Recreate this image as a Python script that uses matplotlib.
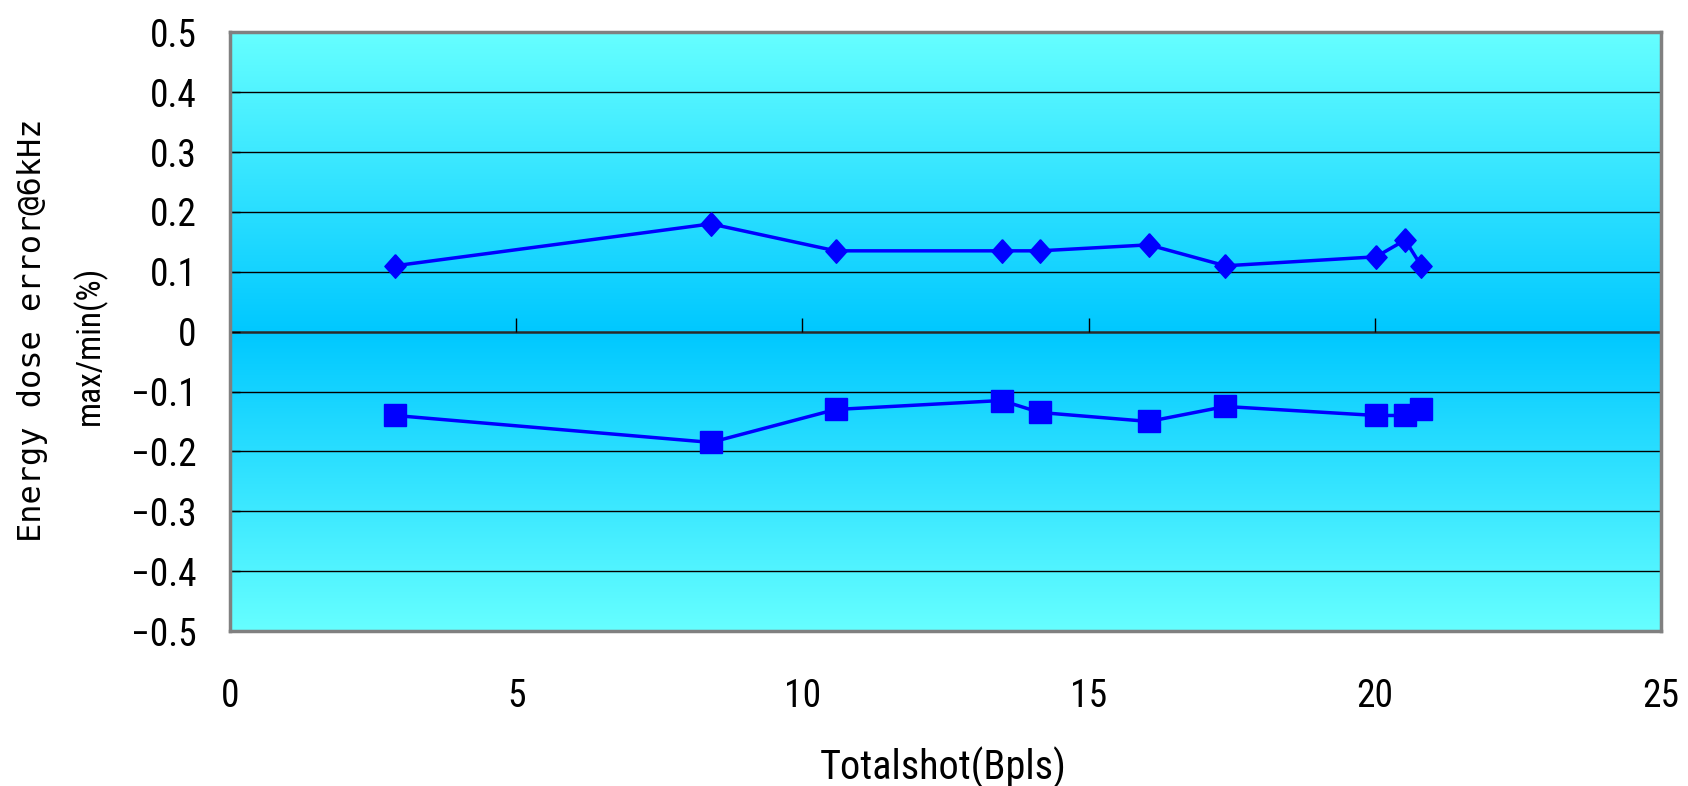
import numpy as np
import matplotlib.pyplot as plt
from matplotlib import font_manager as fm

# data
shots = [2.88, 8.4, 10.58, 13.48, 14.15, 16.05, 17.39, 20.02, 20.53, 20.81]
err_max = [0.11, 0.18, 0.135, 0.135, 0.135, 0.145, 0.11, 0.125, 0.153, 0.11]
err_min = [-0.14, -0.185, -0.13, -0.115, -0.135, -0.15, -0.125, -0.14, -0.14, -0.13]

x_ticks = [0, 5, 10, 15, 20, 25]
y_ticks = [-0.5, -0.4, -0.3, -0.2, -0.1, 0, 0.1, 0.2, 0.3, 0.4, 0.5]
y_labels = ["\u22120.5", "\u22120.4", "\u22120.3", "\u22120.2", "\u22120.1", "0",
            "0.1", "0.2", "0.3", "0.4", "0.5"]

# look for a narrow sans face, the reference uses a tall condensed gothic
names = {f.name for f in fm.fontManager.ttflist}
narrow = None
for n in ['Liberation Sans Narrow', 'DejaVu Sans Condensed', 'Roboto Condensed',
          'Open Sans Condensed', 'Noto Sans Condensed']:
    if n in names:
        narrow = n
        break
stretch = 'normal'
if narrow is None:
    for f in fm.fontManager.ttflist:
        if f.stretch in ('condensed', 'semi-condensed') and f.style == 'normal' \
                and f.weight in (400, 'normal') and 'Mono' not in f.name:
            narrow, stretch = f.name, f.stretch
            break

if narrow:
    plt.rcParams['font.family'] = [narrow, 'DejaVu Sans']
    plt.rcParams['font.stretch'] = stretch
    tick_fs, xl_fs, yl2_fs = 27, 29, 24
else:
    plt.rcParams['font.family'] = ['Liberation Sans', 'DejaVu Sans']
    tick_fs, xl_fs, yl2_fs = 24, 26, 22

fig = plt.figure(figsize=(16.88, 7.86), dpi=100)
ax = fig.add_axes([0.1363, 0.1972, 0.8477, 0.7617])
ax.set_xlim(0, 25)
ax.set_ylim(-0.5, 0.5)

# background gradient: light cyan at the edges, deeper at the middle
top = np.array([102, 255, 255]) / 255
mid = np.array([0, 200, 255]) / 255
t = np.abs(np.linspace(-1, 1, 400))[:, None]
grad = (mid + (top - mid) * t).reshape(400, 1, 3)
ax.imshow(grad, extent=[0, 25, -0.5, 0.5], aspect='auto', zorder=0,
          interpolation='bilinear')

# grid lines
for v in y_ticks:
    if v not in (0, 0.5, -0.5):
        ax.axhline(v, color='black', lw=1.0, zorder=1)
ax.axhline(0, color='#2a2a2a', lw=1.8, zorder=1)
ax.vlines(x_ticks[1:], 0, 0.022, color='black', lw=1.0, zorder=1)

diamond = [(0, 1), (0.9, 0), (0, -1), (-0.9, 0), (0, 1)]
ax.plot(shots, err_max, color='#0000FF', lw=2.5, marker=diamond, ms=17, zorder=3)
ax.plot(shots, err_min, color='#0000FF', lw=2.5, marker='s', ms=16.5, zorder=3)

ax.set_xticks(x_ticks)
ax.set_xticklabels([str(v) for v in x_ticks])
ax.set_yticks(y_ticks)
ax.set_yticklabels(y_labels)
ax.tick_params(axis='x', length=0, pad=34, labelsize=tick_fs)
ax.tick_params(axis='y', direction='in', length=7, width=1, pad=24, labelsize=tick_fs)

for s in ax.spines.values():
    s.set_color('#808080')
    s.set_linewidth(2.5)

fig.text(0.019, 0.58, "Energy dose error@6kHz", rotation=90, ha='center', va='center',
         fontsize=23, family=['DejaVu Sans Mono', 'DejaVu Sans'], stretch='normal')
fig.text(0.053, 0.56, "max/min(%)", rotation=90, ha='center', va='center',
         fontsize=yl2_fs)
fig.text(0.559, 0.0234, "Totalshot(Bpls)", ha='center', va='center', fontsize=xl_fs)

fig.savefig('out.png', dpi=100)
